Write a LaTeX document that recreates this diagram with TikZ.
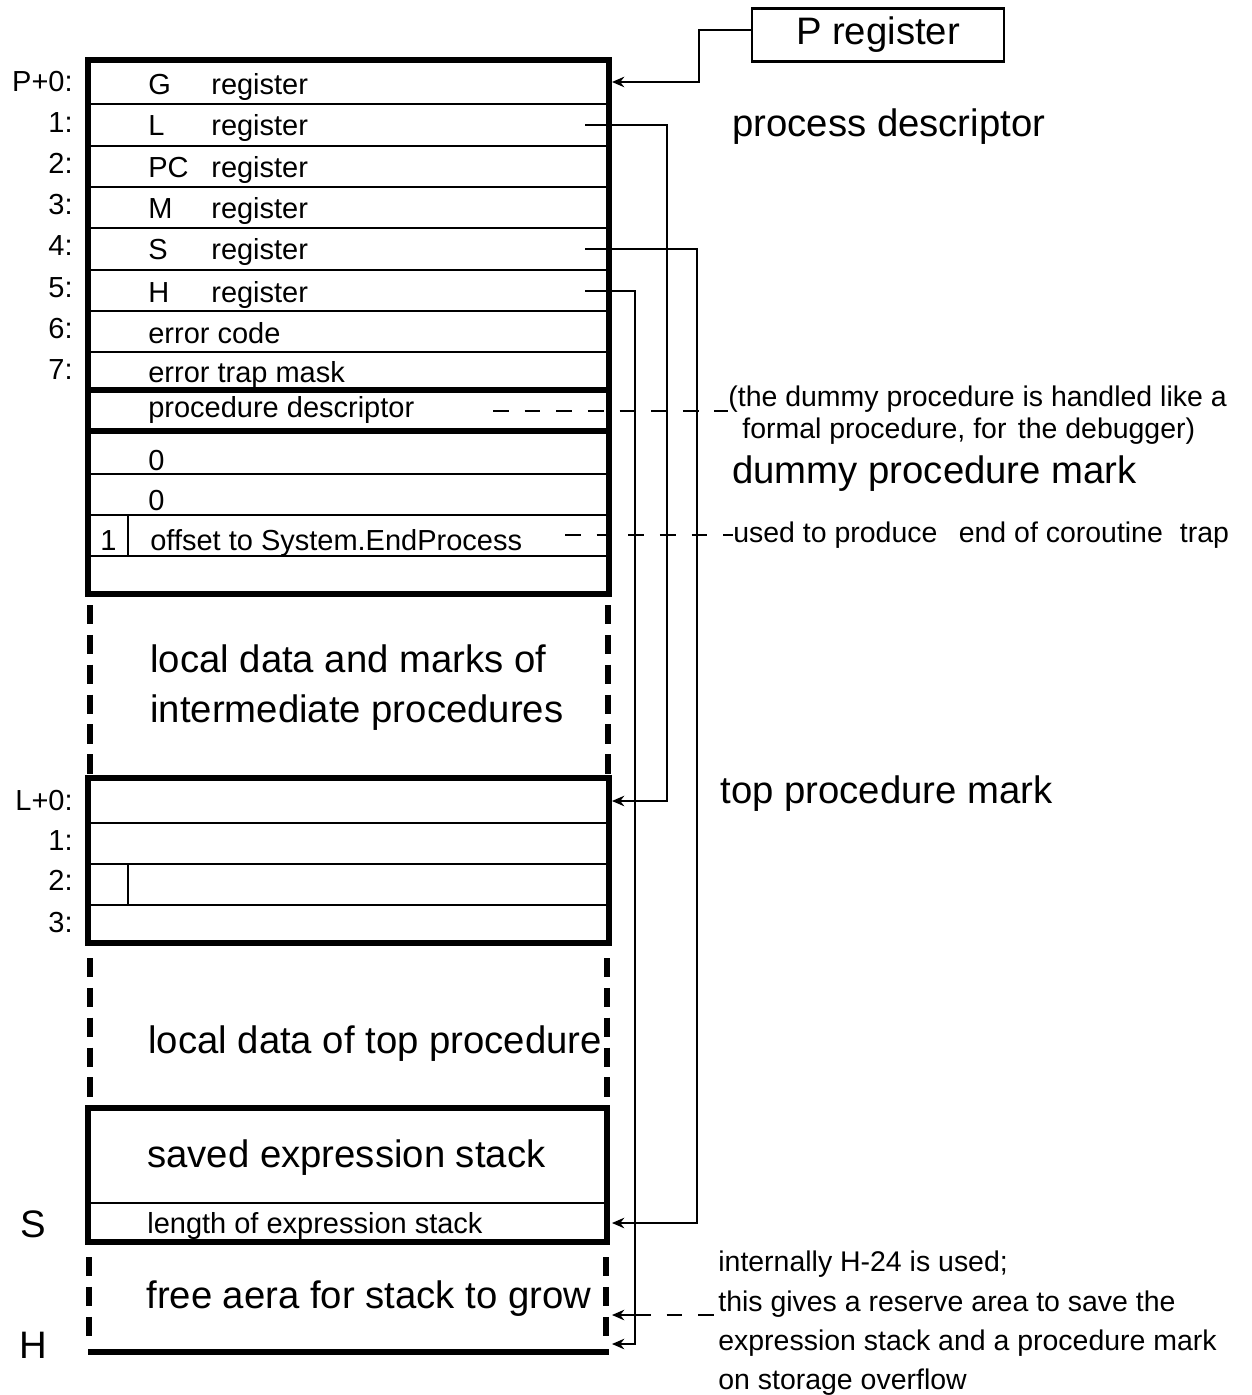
\documentclass[tikz,border=0pt]{standalone}
\usepackage{fontspec}
\setmainfont{Liberation Sans}
\usetikzlibrary{arrows.meta,positioning}

\tikzset{
  wall/.style={line width=3.2pt},
  row/.style={line width=1.4pt},
  gap/.style={line width=3.2pt,dash pattern=on 11pt off 6pt},
  ptr/.style={-{Stealth[length=7pt,width=6pt]},line width=1pt},
  dashlink/.style={line width=1pt,dash pattern=on 9pt off 9pt},
  celltxt/.style={anchor=base west,inner sep=0pt,font=\fontsize{16.5}{19}\selectfont},
  notetxt/.style={anchor=base west,inner sep=0pt,font=\fontsize{16.2}{19}\selectfont},
  bigtxt/.style={anchor=base west,inner sep=0pt,font=\fontsize{21.8}{26}\selectfont},
  idx/.style={anchor=base east,inner sep=0pt,font=\fontsize{16.5}{19}\selectfont},
  regbox/.style={draw,line width=1.2pt,minimum width=5.04cm,minimum height=1.06cm,
    inner sep=0pt,font=\fontsize{21.8}{26}\selectfont},
}

\begin{document}
\begin{tikzpicture}[x=0.02cm,y=-0.02cm]
  \useasboundingbox (0,0) rectangle (1251,1395);

  % process descriptor block
  \draw[wall] (88,60) rectangle (609,594);
  \draw[row] (88,104) -- (609,104);
  \draw[row] (88,146) -- (609,146);
  \draw[row] (88,187) -- (609,187);
  \draw[row] (88,228) -- (609,228);
  \draw[row] (88,270) -- (609,270);
  \draw[row] (88,311) -- (609,311);
  \draw[row] (88,352) -- (609,352);
  \draw[wall] (88,390) -- (609,390);
  \draw[wall] (88,431) -- (609,431);
  \draw[row] (88,474) -- (609,474);
  \draw[row] (88,515) -- (609,515);
  \draw[row] (88,556) -- (609,556);
  \draw[row] (128,515) -- (128,556);

  \node[idx] (p0) at (73,92)  {P+0:};
  \node[idx] (p1) at (73,133) {1:};
  \node[idx] (p2) at (73,174) {2:};
  \node[idx] (p3) at (73,215) {3:};
  \node[idx] (p4) at (73,256) {4:};
  \node[idx] (p5) at (73,297) {5:};
  \node[idx] (p6) at (73,338) {6:};
  \node[idx] (p7) at (73,379) {7:};

  \node[celltxt] (g)    at (148,95)  {G};
  \node[celltxt] (greg) at (211,95)  {register};
  \node[celltxt] (l)    at (148,136) {L};
  \node[celltxt] (lreg) at (211,136) {register};
  \node[celltxt] (pc)   at (148,178) {PC};
  \node[celltxt] (pcreg) at (211,178) {register};
  \node[celltxt] (m)    at (148,219) {M};
  \node[celltxt] (mreg) at (211,219) {register};
  \node[celltxt] (s)    at (148,260) {S};
  \node[celltxt] (sreg) at (211,260) {register};
  \node[celltxt] (h)    at (148,302) {H};
  \node[celltxt] (hreg) at (211,302) {register};
  \node[celltxt] (errc) at (148,343) {error code};
  \node[celltxt] (errm) at (148,382) {error trap mask};
  \node[celltxt] (pdesc) at (148,417) {procedure descriptor};
  \node[celltxt] (zeroa) at (148,470) {0};
  \node[celltxt] (zerob) at (148,510) {0};
  \node[celltxt] (one)  at (100,550) {1};
  \node[celltxt] (offs) at (150,550) {offset to System.EndProcess};

  % intermediate procedures
  \draw[gap] (90,605) -- (90,776);
  \draw[gap] (608,605) -- (608,776);
  \node[bigtxt] (mid1) at (150,672) {local data and marks of};
  \node[bigtxt] (mid2) at (150,722) {intermediate procedures};

  % top procedure mark
  \draw[wall] (88,778) rectangle (609,943);
  \draw[row] (88,823) -- (609,823);
  \draw[row] (88,864) -- (609,864);
  \draw[row] (88,905) -- (609,905);
  \draw[row] (128,864) -- (128,905);
  \node[idx] (l0) at (73,810) {L+0:};
  \node[idx] (l1) at (73,850) {1:};
  \node[idx] (l2) at (73,890) {2:};
  \node[idx] (l3) at (73,932) {3:};

  \draw[gap] (90,958) -- (90,1102);
  \draw[gap] (607,958) -- (607,1102);
  \node[bigtxt] (topdata) at (148,1053) {local data of top procedure};

  % saved expression stack
  \draw[wall] (88,1108) rectangle (607,1242);
  \draw[row] (88,1203) -- (607,1203);
  \node[bigtxt] (saved) at (147,1167) {saved expression stack};
  \node[celltxt] (len) at (147,1233) {length of expression stack};
  \node[bigtxt,anchor=base] (slab) at (33,1237) {S};

  % free area
  \draw[gap] (89,1257) -- (89,1345);
  \draw[gap] (606,1257) -- (606,1345);
  \draw[wall] (88,1352) -- (609,1352);
  \node[bigtxt] (free) at (146,1308) {free aera for stack to grow};
  \node[bigtxt,anchor=base] (hlab) at (33,1358) {H};

  % notes on the right
  \node[regbox] (preg) at (878,35) {P register};
  \node[bigtxt] (pdname) at (732,137) {process descriptor};
  \node[notetxt] (dnote1) at (728,406) {(the dummy procedure is handled like a};
  \node[notetxt] (dnote2) at (742,438) {formal procedure, for\hspace{0.4em}the debugger)};
  \node[bigtxt] (dmark) at (732,483) {dummy procedure mark};
  \node[notetxt] (coro) at (733,542) {used to produce\hspace{0.75em}end of coroutine\hspace{0.6em}trap};
  \node[bigtxt] (tmark) at (720,803) {top procedure mark};
  \node[notetxt] (h24) at (718,1271) {internally H-24 is used;};
  \node[notetxt] (rsv1) at (718,1311) {this gives a reserve area to save the};
  \node[notetxt] (rsv2) at (718,1350) {expression stack and a procedure mark};
  \node[notetxt] (rsv3) at (718,1389) {on storage overflow};

  % connectors
  \coordinate (pin)   at (612,82);
  \coordinate (lout)  at (585,125);
  \coordinate (lin)   at (612,801);
  \coordinate (sout)  at (585,249);
  \coordinate (sin)   at (612,1223);
  \coordinate (hout)  at (585,291);
  \coordinate (hin)   at (612,1344);
  \coordinate (hfork) at (635,1315);
  \coordinate (hres)  at (612,1315);
  \coordinate (pdout) at (493,411);
  \coordinate (eoout) at (565,535);

  \draw[ptr] ([yshift=3pt]preg.west) -- ++(-52,0) |- (pin);
  \draw[ptr] (lout) -- ++(82,0) |- (lin);
  \draw[ptr] (sout) -- ++(112,0) |- (sin);
  \draw[ptr] (hout) -- ++(50,0) |- (hin);
  \draw[ptr] (hfork) -- (hres);
  \draw[dashlink] (hfork) -- (hfork -| rsv1.west);
  \draw[dashlink] (pdout) -- (pdout -| dnote1.west);
  \draw[dashlink] (eoout) -- (eoout -| coro.west);

\end{tikzpicture}
\end{document}
